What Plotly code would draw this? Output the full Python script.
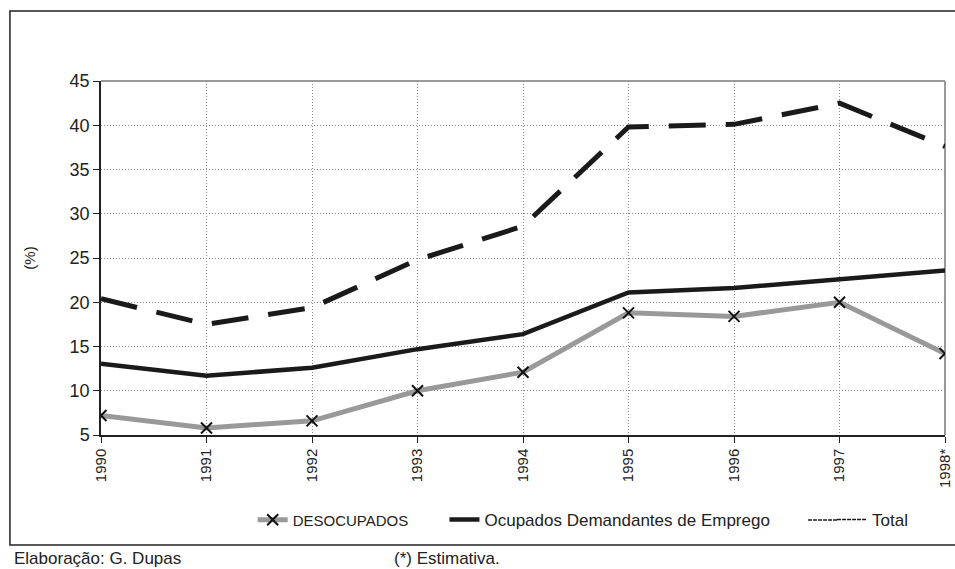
import plotly.graph_objects as go

years = ["1990", "1991", "1992", "1993", "1994", "1995", "1996", "1997", "1998*"]
desocupados = [7.2, 5.8, 6.6, 10.0, 12.1, 18.8, 18.4, 20.0, 14.2]
ocupados = [13.05, 11.7, 12.6, 14.7, 16.4, 21.1, 21.6, 22.6, 23.6]
total = [20.4, 17.5, 19.4, 24.8, 28.6, 39.8, 40.1, 42.5, 37.6]

y_ticks = [5, 10, 15, 20, 25, 30, 35, 40, 45]

# target picture coordinates (reference pixels) are converted to figure pixels
SX = 963 / 955
W, H = 963, 569
PL, PR, PT, PB = 100, 945, 81, 435  # plot area in reference pixels
L, R = round(PL * SX), W - round(PR * SX)
T, B = PT, H - PB
pw = round(PR * SX) - round(PL * SX)
ph = PB - PT

def px(x):
    return (x * SX - L) / pw

def py(y):
    return (PB - y) / ph

FONT = "Liberation Sans, Arial, sans-serif"

fig = go.Figure()

fig.add_trace(go.Scatter(
    x=years, y=total, mode="lines", showlegend=False,
    line=dict(color="#1a1a1a", width=5, dash="37px,20px"),
))
fig.add_trace(go.Scatter(
    x=years, y=ocupados, mode="lines", name="Ocupados Demandantes de Emprego",
    line=dict(color="#1a1a1a", width=4.5), legend="legend2",
))
fig.add_trace(go.Scatter(
    x=years, y=desocupados, mode="lines+markers", name="DESOCUPADOS",
    line=dict(color="#999999", width=5),
    marker=dict(symbol="x-thin", size=11, color="#111", line=dict(color="#111", width=2)),
    legend="legend",
))
# legend-only entry for Total (thin dashed symbol as in the reference)
fig.add_trace(go.Scatter(
    x=[None], y=[None], mode="lines", name="Total",
    line=dict(color="#1a1a1a", width=1.5, dash="4px,1px"), legend="legend3",
))

legend_common = dict(orientation="h", xanchor="left", yanchor="middle",
                     bgcolor="rgba(0,0,0,0)", font=dict(family=FONT, size=17, color="#222"),
                     itemwidth=30)

LEG_Y = 520

fig.update_layout(
    width=W, height=H,
    margin=dict(l=L, r=R, t=T, b=B),
    paper_bgcolor="white", plot_bgcolor="white",
    font=dict(family=FONT, color="#222"),
    legend=dict(legend_common, x=px(252), y=py(LEG_Y), font=dict(family=FONT, size=15, color="#222")),
    legend2=dict(legend_common, x=px(444), y=py(LEG_Y)),
    legend3=dict(legend_common, x=px(832), y=py(LEG_Y)),
    xaxis=dict(
        type="category", range=[0, len(years) - 1],
        showline=True, linecolor="#222", linewidth=1.5,
        ticks="outside", ticklen=6, tickcolor="#222",
        tickangle=-90, tickfont=dict(family=FONT, size=15, color="#222"),
        showgrid=True, gridcolor="#8a8a8a", griddash="1px,2px", gridwidth=1,
        zeroline=False,
    ),
    yaxis=dict(
        range=[5, 45], tickvals=y_ticks,
        showline=True, linecolor="#222", linewidth=1.5,
        ticks="outside", ticklen=6, tickcolor="#222",
        tickfont=dict(family=FONT, size=18, color="#222"),
        showgrid=True, gridcolor="#8a8a8a", griddash="1px,2px", gridwidth=1,
        zeroline=False,
        title=dict(text="(%)", font=dict(family=FONT, size=15, color="#222"), standoff=30),
    ),
    shapes=[
        # gray top/right border of plot area
        dict(type="line", xref="paper", yref="paper", x0=0, x1=1, y0=1, y1=1,
             line=dict(color="#999999", width=2), layer="below"),
        dict(type="line", xref="paper", yref="paper", x0=1, x1=1, y0=0, y1=1,
             line=dict(color="#999999", width=2), layer="below"),
        # outer frame (right edge runs off the picture, as in the reference)
        dict(type="rect", xref="paper", yref="paper",
             x0=px(9), x1=px(990), y0=py(545), y1=py(11),
             line=dict(color="#222", width=1.5), fillcolor="rgba(0,0,0,0)"),
        # extension of the thin dashed legend symbol for Total
        dict(type="line", xref="paper", yref="paper",
             x0=px(808), x1=px(838), y0=py(LEG_Y), y1=py(LEG_Y),
             line=dict(color="#1a1a1a", width=1.5, dash="4px,1px")),
    ],
    annotations=[
        dict(text="Elaboração: G. Dupas", xref="paper", yref="paper",
             x=px(11), y=py(558), xanchor="left", yanchor="middle", showarrow=False,
             font=dict(family=FONT, size=17, color="#222")),
        dict(text="(*) Estimativa.", xref="paper", yref="paper",
             x=px(391), y=py(558), xanchor="left", yanchor="middle", showarrow=False,
             font=dict(family=FONT, size=17, color="#222")),
    ],
)

fig.write_html("out.html", config={"displayModeBar": False},
               post_script="document.body.style.margin='0';document.body.style.overflow='hidden';")
